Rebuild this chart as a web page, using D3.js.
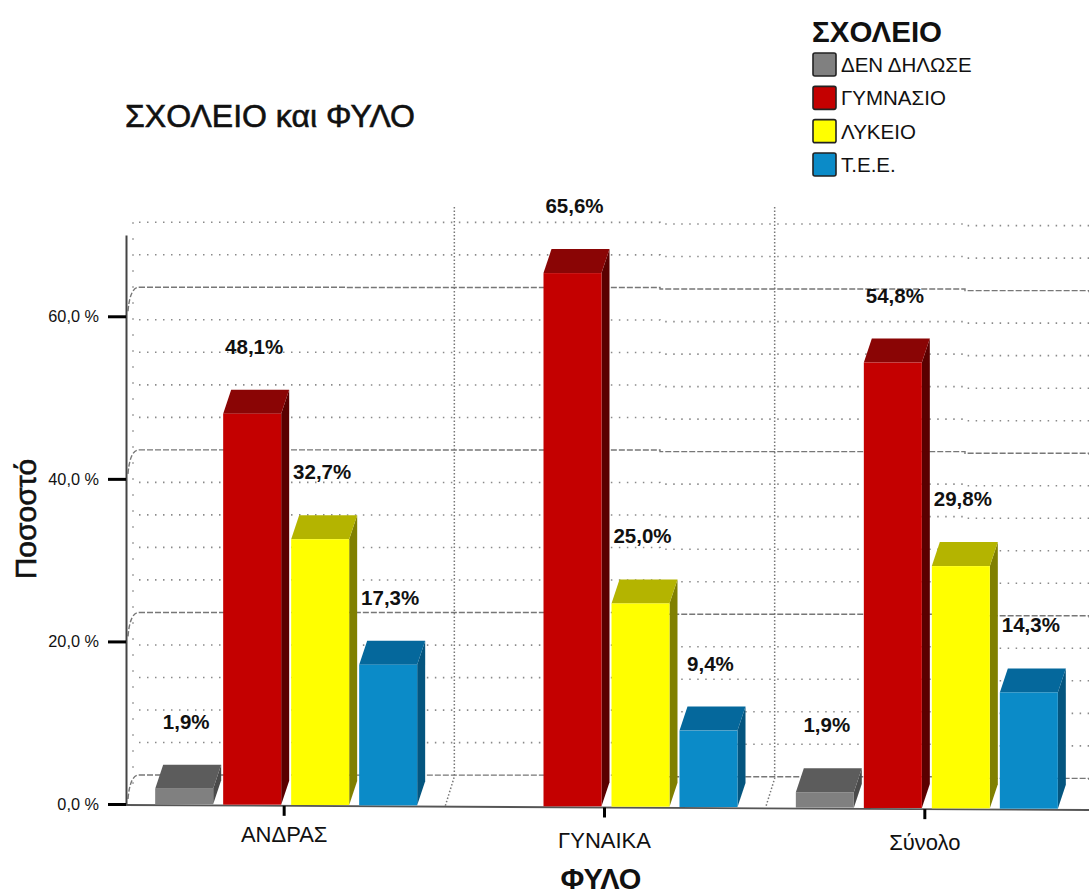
<!DOCTYPE html>
<html>
<head>
<meta charset="utf-8">
<title>ΣΧΟΛΕΙΟ και ΦΥΛΟ</title>
<script src="https://cdn.jsdelivr.net/npm/d3@7"></script>
<style>
  html, body { margin: 0; background: #fff; }
  svg { display: block; }
  text { font-family: "Liberation Sans", Arial, sans-serif; fill: #111; }
</style>
</head>
<body>
<script>
// data
var groups = ["ΑΝΔΡΑΣ", "ΓΥΝΑΙΚΑ", "Σύνολο"];
var schools = ["ΔΕΝ ΔΗΛΩΣΕ", "ΓΥΜΝΑΣΙΟ", "ΛΥΚΕΙΟ", "Τ.Ε.Ε."];
var notStated = [1.9, null, 1.9];
var gymnasio = [48.1, 65.6, 54.8];
var lykeio = [32.7, 25.0, 29.8];
var tee = [17.3, 9.4, 14.3];
var seriesValues = [notStated, gymnasio, lykeio, tee];
var yTicks = [0, 20, 40, 60];
var gridValues = [0, 4, 8, 12, 16, 20, 24, 28, 32, 36, 40, 44, 48, 52, 56, 60, 64, 68];

var front = ["#808080", "#c40000", "#ffff00", "#0b8bc8"];
var topFace = ["#5c5c5c", "#8a0505", "#b4b400", "#05689c"];
var sideFace = ["#4a4a4a", "#5a0000", "#808000", "#04557f"];

var width = 1089, height = 896;
var depthX = 8, depthY = 24; // fake 3d offset
var wallDy = 29;

var svg = d3.select("body").append("svg")
    .attr("width", width)
    .attr("height", height)
    .attr("viewBox", [0, 0, width, height]);

var y = d3.scaleLinear().domain([0, 70]).range([804, 235]);
var x0 = d3.scaleBand().domain(groups).range([124, 1085]);
var x1 = d3.scaleBand().domain(schools).range([-129, 133]).paddingInner(0.147);

// the picture leans a little, everything drops about 4px left to right
var tilt = d3.scaleLinear().domain([124, 1089]).range([0, 5]);

function groupCentre(g) { return x0(g) + x0.bandwidth() / 2; }

// back wall grid
var grid = svg.append("g").attr("fill", "none");
gridValues.forEach(function(v) {
  var major = v % 20 === 0;
  var yy = y(v) - wallDy;
  var line = d3.line().curve(d3.curveStepAfter);
  var pts = [[139, yy], [345, yy + tilt(345) - 1], [660, yy + tilt(660) - 1], [965, yy + tilt(965) - 1], [1089, yy + tilt(1089)]];
  grid.append("path")
      .attr("d", line(pts))
      .attr("stroke", major ? "#777" : "#8a8a8a")
      .attr("stroke-width", major ? 1.4 : 1.6)
      .attr("stroke-dasharray", major ? "6 2" : "1.5 6.5");
  if (major) {
    grid.append("path")
        .attr("d", "M128," + (y(v) - 5) + "Q130," + yy + " 139," + yy)
        .attr("stroke", "#777")
        .attr("stroke-width", 1.4)
        .attr("stroke-dasharray", "5 2");
  }
});

// dots on the left wall and the two separators between groups
grid.append("line")
    .attr("x1", 133).attr("x2", 133)
    .attr("y1", y(68) - wallDy).attr("y2", y(0) - 8)
    .attr("stroke", "#8a8a8a").attr("stroke-width", 1.5)
    .attr("stroke-dasharray", "1.5 14.5");

groups.slice(1).forEach(function(g) {
  var bx = x0(g) + depthX + 2;
  grid.append("path")
      .attr("d", "M" + bx + ",207L" + bx + "," + (y(0) - wallDy + tilt(bx)) +
        "L" + (bx - 9) + "," + (y(0) + tilt(bx)))
      .attr("stroke", "#777")
      .attr("stroke-width", 1.5)
      .attr("stroke-dasharray", "1.5 2");
});

// floor line
svg.append("line")
    .attr("x1", 124).attr("x2", 1089)
    .attr("y1", y(0) + 1).attr("y2", y(0) + 1 + tilt(1089))
    .attr("stroke", "#555")
    .attr("stroke-width", 1.8);

// axes
var yAxis = d3.axisLeft(y)
    .tickValues(yTicks)
    .tickSize(18)
    .tickSizeOuter(0)
    .tickPadding(9)
    .tickFormat(function(d) { return d.toFixed(1).replace(".", ",") + " %"; });

var gy = svg.append("g")
    .attr("transform", "translate(126,0)")
    .call(yAxis);
gy.select(".domain").attr("stroke", "#444").attr("stroke-width", 2);
gy.selectAll(".tick line").attr("stroke", "#000").attr("stroke-width", 3);
gy.selectAll(".tick text")
    .attr("font-size", 16.3)
    .style("font-family", "'Liberation Sans', sans-serif")
    .attr("fill", "#222");

var xAxis = d3.axisBottom(x0).tickSize(10).tickSizeOuter(0).tickPadding(12);
var gx = svg.append("g")
    .attr("transform", "translate(0," + (y(0) + 1) + ")")
    .call(xAxis);
gx.select(".domain").remove();
gx.selectAll(".tick").attr("transform", function(d) {
  return "translate(" + groupCentre(d) + "," + tilt(groupCentre(d)) + ")";
});
gx.selectAll(".tick line").attr("stroke", "#000").attr("stroke-width", 3);
gx.selectAll(".tick text")
    .attr("font-size", 22)
    .attr("y", function(d, i) { return i === 0 ? 21 : 25; }) // first label sits a bit higher
    .style("font-family", "'Liberation Sans', sans-serif")
    .attr("fill", "#222");

// bars
var rows = [];
groups.forEach(function(g, gi) {
  schools.forEach(function(s, si) {
    var v = seriesValues[si][gi];
    if (v === null) return;
    rows.push({ group: g, school: s, si: si, value: v });
  });
});

var bar = svg.append("g").selectAll("g")
  .data(rows)
  .join("g")
    .attr("transform", function(d) {
      var cx = groupCentre(d.group) + x1(d.school);
      return "translate(" + cx + "," + tilt(cx + 29) + ")";
    });

var bw = x1.bandwidth();

bar.append("path")
    .attr("fill", function(d) { return sideFace[d.si]; })
    .attr("d", function(d) {
      var t = y(d.value), b = y(0);
      return "M" + bw + "," + t + "l" + depthX + "," + (-depthY) + "L" + (bw + depthX) + "," + (b - depthY) + "L" + bw + "," + b + "Z";
    });
bar.append("path")
    .attr("fill", function(d) { return topFace[d.si]; })
    .attr("d", function(d) {
      var t = y(d.value);
      return "M0," + t + "l" + depthX + "," + (-depthY) + "h" + bw + "l" + (-depthX) + "," + depthY + "Z";
    });
bar.append("rect")
    .attr("fill", function(d) { return front[d.si]; })
    .attr("width", bw)
    .attr("y", function(d) { return y(d.value); })
    .attr("height", function(d) { return y(0) - y(d.value); });

bar.append("text")
    .attr("x", bw / 2 + 2)
    .attr("y", function(d) { return y(d.value) - 60; })
    .attr("text-anchor", "middle")
    .attr("font-size", 20.5)
    .attr("font-weight", "bold")
    .text(function(d) { return d.value.toFixed(1).replace(".", ",") + "%"; });

// titles
svg.append("text")
    .attr("x", 125).attr("y", 127)
    .attr("font-size", 32)
    .attr("stroke", "#111").attr("stroke-width", 0.6)
    .text("ΣΧΟΛΕΙΟ και ΦΥΛΟ");

svg.append("text")
    .attr("transform", "translate(36,519) rotate(-90)")
    .attr("text-anchor", "middle")
    .attr("font-size", 30)
    .attr("stroke", "#111").attr("stroke-width", 0.6)
    .text("Ποσοστό");

svg.append("text")
    .attr("x", 601).attr("y", 889)
    .attr("text-anchor", "middle")
    .attr("font-size", 29)
    .attr("font-weight", "bold")
    .text("ΦΥΛΟ");

// legend
var legendY = d3.scalePoint().domain(schools).range([52, 152]);

svg.append("text")
    .attr("x", 812).attr("y", 42)
    .attr("font-size", 29.5)
    .attr("font-weight", "bold")
    .text("ΣΧΟΛΕΙΟ");

var legend = svg.append("g").selectAll("g")
  .data(schools)
  .join("g")
    .attr("transform", function(d) { return "translate(812," + legendY(d) + ")"; });

legend.append("rect")
    .attr("x", 1).attr("y", 1)
    .attr("width", 23).attr("height", 23)
    .attr("rx", 2)
    .attr("fill", function(d, i) { return front[i]; })
    .attr("stroke", "#222")
    .attr("stroke-width", 1.6);

legend.append("text")
    .attr("x", 29).attr("y", 20)
    .attr("font-size", 20.5)
    .attr("fill", "#222")
    .text(function(d) { return d; });
</script>
</body>
</html>
